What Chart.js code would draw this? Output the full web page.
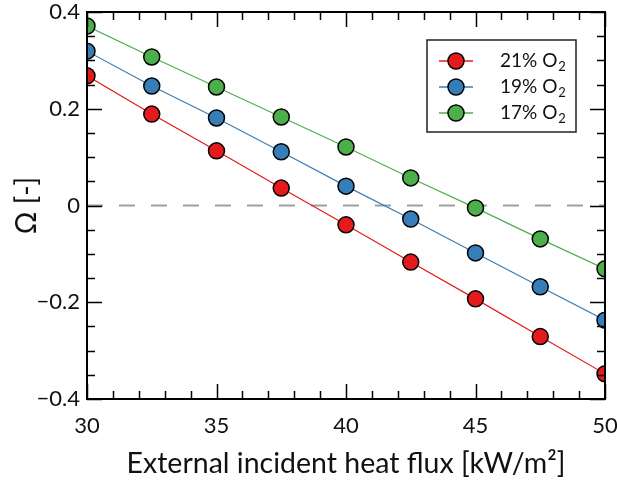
<!DOCTYPE html>
<html>
<head>
<meta charset="utf-8">
<script src="https://cdn.jsdelivr.net/npm/chart.js@4/dist/chart.umd.min.js"></script>
<style>
html,body{margin:0;padding:0;background:#fff;}
#wrap{width:617px;height:484px;position:relative;}
</style>
</head>
<body>
<div id="wrap"><canvas id="c" width="617" height="484"></canvas></div>
<script>
const fluxes = [30, 32.5, 35, 37.5, 40, 42.5, 45, 47.5, 50];
const omega21 = [0.268, 0.189, 0.113, 0.036, -0.040, -0.117, -0.193, -0.271, -0.348];
const omega19 = [0.319, 0.247, 0.181, 0.111, 0.040, -0.028, -0.098, -0.168, -0.237];
const omega17 = [0.371, 0.307, 0.245, 0.183, 0.121, 0.057, -0.005, -0.069, -0.131];
const seriesNames = ['21% O', '19% O', '17% O'];
const seriesSub = ['2', '2', '2'];
const xTickValues = [30, 35, 40, 45, 50];
const yTickValues = [0.4, 0.2, 0, -0.2, -0.4];
const yTickLabels = ['0.4', '0.2', '0', '\u22120.2', '\u22120.4'];

const FONT = 'Lato';
const colors = ['#e41a1c', '#377eb8', '#4daf4a'];

function pts(arr){ return fluxes.map((x,i)=>({x:x, y:arr[i]})); }

const ds = [omega21, omega19, omega17].map((arr,i)=>({
  label: seriesNames[i] + seriesSub[i],
  data: pts(arr),
  borderColor: colors[i],
  backgroundColor: colors[i],
  pointBackgroundColor: colors[i],
  pointBorderColor: '#000',
  pointBorderWidth: 1.5,
  pointRadius: 8,
  borderWidth: 1.2,
  clip: 0,
  order: 3 - i
}));

const framePlugin = {
  id: 'frame',
  beforeDatasetsDraw(chart){
    const {ctx, chartArea:a, scales:{y}} = chart;
    const y0 = y.getPixelForValue(0);
    ctx.save();
    ctx.strokeStyle = '#a0a0a0';
    ctx.lineWidth = 2;
    ctx.setLineDash([16,16]);
    ctx.beginPath();
    ctx.moveTo(a.left, y0); ctx.lineTo(a.right, y0);
    ctx.stroke();
    ctx.restore();
  },
  afterDatasetsDraw(chart){
    const {ctx, chartArea:a, scales:{x,y}} = chart;
    ctx.save();
    ctx.strokeStyle = '#000';
    ctx.lineWidth = 2;
    ctx.setLineDash([]);
    ctx.strokeRect(a.left, a.top, a.right - a.left, a.bottom - a.top);
    ctx.lineWidth = 1.5;
    ctx.beginPath();
    for (let v = x.min; v <= x.max + 1e-9; v += 1) {
      const px = Math.round(x.getPixelForValue(v)) + 0.5;
      const major = Math.abs(v % 5) < 1e-9;
      const L = major ? 15 : 8;
      ctx.moveTo(px, a.bottom); ctx.lineTo(px, a.bottom - L);
      ctx.moveTo(px, a.top); ctx.lineTo(px, a.top + L);
    }
    for (let k = -8; k <= 8; k++) {
      const v = k * 0.05;
      const py = Math.round(y.getPixelForValue(v)) + 0.5;
      const major = (k % 4) === 0;
      const L = major ? 15 : 8;
      ctx.moveTo(a.left, py); ctx.lineTo(a.left + L, py);
      ctx.moveTo(a.right, py); ctx.lineTo(a.right - L, py);
    }
    ctx.stroke();
    // legend
    const bx = 427, by = 40, bw = 149, bh = 92;
    ctx.fillStyle = '#fff';
    ctx.fillRect(bx, by, bw, bh);
    ctx.strokeStyle = '#222';
    ctx.lineWidth = 1.5;
    ctx.strokeRect(bx, by, bw, bh);
    chart.data.datasets.forEach((d, i) => {
      const cy = by + 21 + i * 26;
      ctx.strokeStyle = d.borderColor;
      ctx.lineWidth = 1.5;
      ctx.beginPath(); ctx.moveTo(bx + 12, cy); ctx.lineTo(bx + 46, cy); ctx.stroke();
      ctx.beginPath(); ctx.arc(bx + 29, cy, 8, 0, Math.PI * 2);
      ctx.fillStyle = d.pointBackgroundColor; ctx.fill();
      ctx.strokeStyle = '#000'; ctx.lineWidth = 1.5; ctx.stroke();
      ctx.fillStyle = '#111';
      ctx.textBaseline = 'middle';
      ctx.textAlign = 'left';
      ctx.font = '19px ' + FONT;
      const main = seriesNames[i];
      ctx.fillText(main, bx + 73, cy);
      const w = ctx.measureText(main).width;
      ctx.font = '13px ' + FONT;
      ctx.fillText(seriesSub[i], bx + 73 + w + 1, cy + 6);
    });
    ctx.restore();
  }
};

new Chart(document.getElementById('c'), {
  type: 'line',
  data: { datasets: ds },
  options: {
    responsive: false,
    animation: false,
    devicePixelRatio: 1,
    layout: { padding: { left: 0, top: 12, right: 12, bottom: 0 } },
    plugins: { legend: { display: false }, tooltip: { enabled: false } },
    scales: {
      x: {
        type: 'linear', min: 30, max: 50,
        afterFit(s){ s.height = 85; s.paddingLeft = 0; s.paddingRight = 0; },
        afterBuildTicks(s){ s.ticks = xTickValues.map(v => ({value: v})); },
        grid: { display: false, drawTicks: false },
        border: { display: false },
        ticks: { color: '#111', font: { family: FONT, size: 22 }, padding: 14, maxRotation: 0,
          callback: (v) => String(v) },
        title: { display: true, text: 'External incident heat flux [kW/m\u00B2]', color: '#111',
          font: { family: FONT, size: 28.5 }, padding: { bottom: 3 } }
      },
      y: {
        type: 'linear', min: -0.4, max: 0.4,
        afterFit(s){ s.width = 87; s.paddingTop = 0; s.paddingBottom = 0; },
        afterBuildTicks(s){ s.ticks = yTickValues.map(v => ({value: v})); },
        grid: { display: false, drawTicks: false },
        border: { display: false },
        ticks: { color: '#111', font: { family: FONT, size: 22 }, padding: 7,
          callback: (v) => { const i = yTickValues.findIndex(t => Math.abs(t - v) < 1e-9); return i >= 0 ? yTickLabels[i] : ''; } },
        title: { display: true, text: '\u03A9 [-]', color: '#111',
          font: { family: FONT, size: 28 }, padding: { top: 10 } }
      }
    }
  },
  plugins: [framePlugin]
});
</script>
</body>
</html>
